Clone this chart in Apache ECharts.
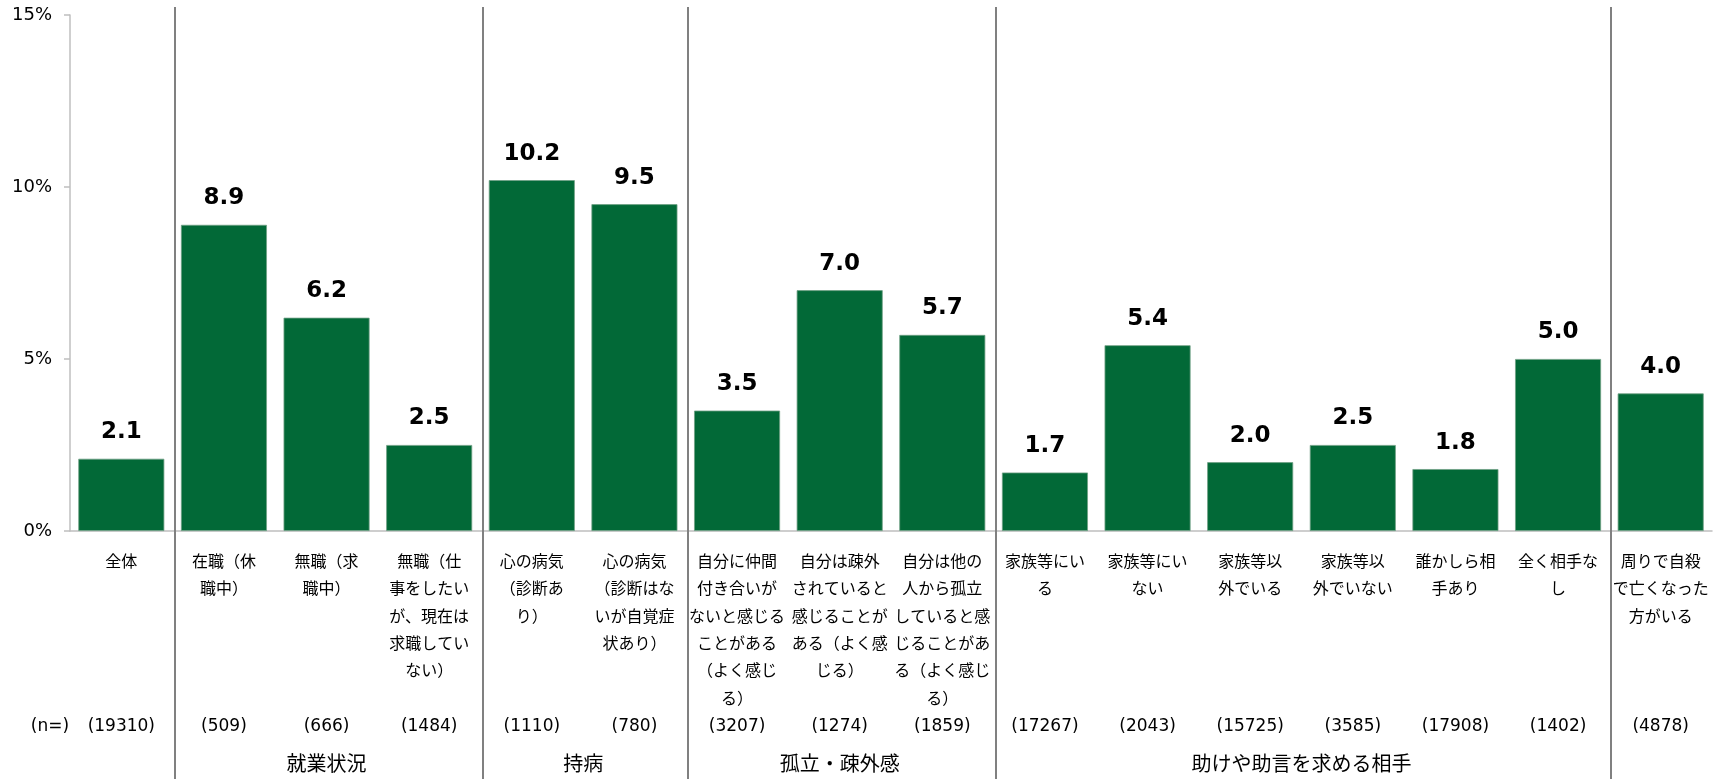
<!DOCTYPE html>
<html>
<head>
<meta charset="utf-8">
<script src="https://cdn.jsdelivr.net/npm/echarts@6/dist/echarts.min.js"></script>
<style>
  html, body { margin: 0; padding: 0; background: #fff; }
  #chart { width: 1723px; height: 779px; }
</style>
</head>
<body>
<div id="chart"></div>
<script>
// Category labels (line breaks as printed under each bar)
const categories = [
  '全体',
  '在職（休\n職中）',
  '無職（求\n職中）',
  '無職（仕\n事をしたい\nが、現在は\n求職してい\nない）',
  '心の病気\n（診断あ\nり）',
  '心の病気\n（診断はな\nいが自覚症\n状あり）',
  '自分に仲間\n付き合いが\nないと感じる\nことがある\n（よく感じ\nる）',
  '自分は疎外\nされていると\n感じることが\nある（よく感\nじる）',
  '自分は他の\n人から孤立\nしていると感\nじることがあ\nる（よく感じ\nる）',
  '家族等にい\nる',
  '家族等にい\nない',
  '家族等以\n外でいる',
  '家族等以\n外でいない',
  '誰かしら相\n手あり',
  '全く相手な\nし',
  '周りで自殺\nで亡くなった\n方がいる'
];

// Share (%) for each category
const values = [2.1, 8.9, 6.2, 2.5, 10.2, 9.5, 3.5, 7.0, 5.7, 1.7, 5.4, 2.0, 2.5, 1.8, 5.0, 4.0];

// Sample sizes
const sampleSizes = [19310, 509, 666, 1484, 1110, 780, 3207, 1274, 1859, 17267, 2043, 15725, 3585, 17908, 1402, 4878];

// Category groups: first and last category index of each
const groupNames = ['就業状況', '持病', '孤立・疎外感', '助けや助言を求める相手'];
const groupStart = [1, 4, 6, 9];
const groupEnd = [3, 5, 8, 14];

// Y axis ticks
const yTicks = [0, 5, 10, 15];

const BAR_COLOR = '#026937';
const LIGHT_AXIS = '#bfbfbf';
const SEP_COLOR = '#808080';
const JP_FONT = '"Noto Sans CJK JP", "Noto Sans", sans-serif';
const NUM_FONT = '"DejaVu Sans", Verdana, sans-serif';

const chart = echarts.init(document.getElementById('chart'), null, { renderer: 'canvas' });

chart.setOption({
  animation: false,
  backgroundColor: '#ffffff',
  grid: { left: 70, right: 11, top: 15, bottom: 248, containLabel: false },
  xAxis: [
    {
      type: 'category',
      data: categories,
      axisLine: { show: true, lineStyle: { color: LIGHT_AXIS, width: 1.5 } },
      axisTick: { show: false },
      axisLabel: {
        interval: 0,
        margin: 16,
        fontFamily: JP_FONT,
        fontSize: 16,
        lineHeight: 27.4,
        color: '#000',
        verticalAlign: 'top',
        align: 'center'
      }
    },
    {
      type: 'category',
      position: 'bottom',
      offset: 176,
      data: sampleSizes.map(n => '(' + n + ')'),
      axisLine: { show: false },
      axisTick: { show: false },
      axisLabel: {
        interval: 0,
        margin: 10,
        fontFamily: NUM_FONT,
        fontSize: 17,
        lineHeight: 20,
        color: '#000',
        verticalAlign: 'top'
      }
    }
  ],
  yAxis: {
    type: 'value',
    min: yTicks[0],
    max: yTicks[yTicks.length - 1],
    interval: 5,
    splitLine: { show: false },
    axisLine: { show: true, lineStyle: { color: LIGHT_AXIS, width: 1.5 } },
    axisTick: { show: true, length: 6, lineStyle: { color: LIGHT_AXIS, width: 1.5 } },
    axisLabel: {
      margin: 18,
      formatter: '{value}%',
      fontFamily: NUM_FONT,
      fontSize: 18,
      color: '#000'
    }
  },
  series: [{
    type: 'bar',
    xAxisIndex: 0,
    data: values,
    barCategoryGap: '16.2%',
    itemStyle: { color: BAR_COLOR, borderColor: '#6f9f84', borderWidth: 0.8 },
    label: {
      show: true,
      position: 'top',
      distance: 15,
      formatter: p => p.value.toFixed(1),
      fontFamily: NUM_FONT,
      fontWeight: 'bold',
      fontSize: 23,
      color: '#000'
    }
  }]
});

// Group separators, group titles and the "(n=)" caption placed from the axis scale
function drawOverlay() {
  const cx = i => chart.convertToPixel({ xAxisIndex: 0 }, i);
  const band = cx(1) - cx(0);
  const boundary = i => cx(i) + band / 2;  // right edge of category i
  const H = chart.getHeight();

  const sepIdx = new Set();
  groupStart.forEach(s => sepIdx.add(s - 1));
  groupEnd.forEach(e => sepIdx.add(e));

  const elements = [];
  [...sepIdx].sort((a, b) => a - b).forEach(i => {
    const x = Math.round(boundary(i)) + 2;
    elements.push({
      type: 'line',
      shape: { x1: x, y1: 7, x2: x, y2: H },
      style: { stroke: SEP_COLOR, lineWidth: 2 },
      z: 10
    });
  });

  groupNames.forEach((name, g) => {
    const x = (cx(groupStart[g]) + cx(groupEnd[g])) / 2;
    elements.push({
      type: 'text',
      x: x,
      y: 763,
      style: {
        text: name,
        fontFamily: JP_FONT,
        fontSize: 20,
        fill: '#000',
        align: 'center',
        verticalAlign: 'middle'
      },
      z: 10
    });
  });

  elements.push({
    type: 'text',
    x: 50,
    y: 727,
    style: {
      text: '(n=)',
      fontFamily: NUM_FONT,
      fontSize: 17,
      fill: '#000',
      align: 'center',
      verticalAlign: 'middle'
    },
    z: 10
  });

  chart.setOption({ graphic: elements });
}
drawOverlay();
</script>
</body>
</html>
